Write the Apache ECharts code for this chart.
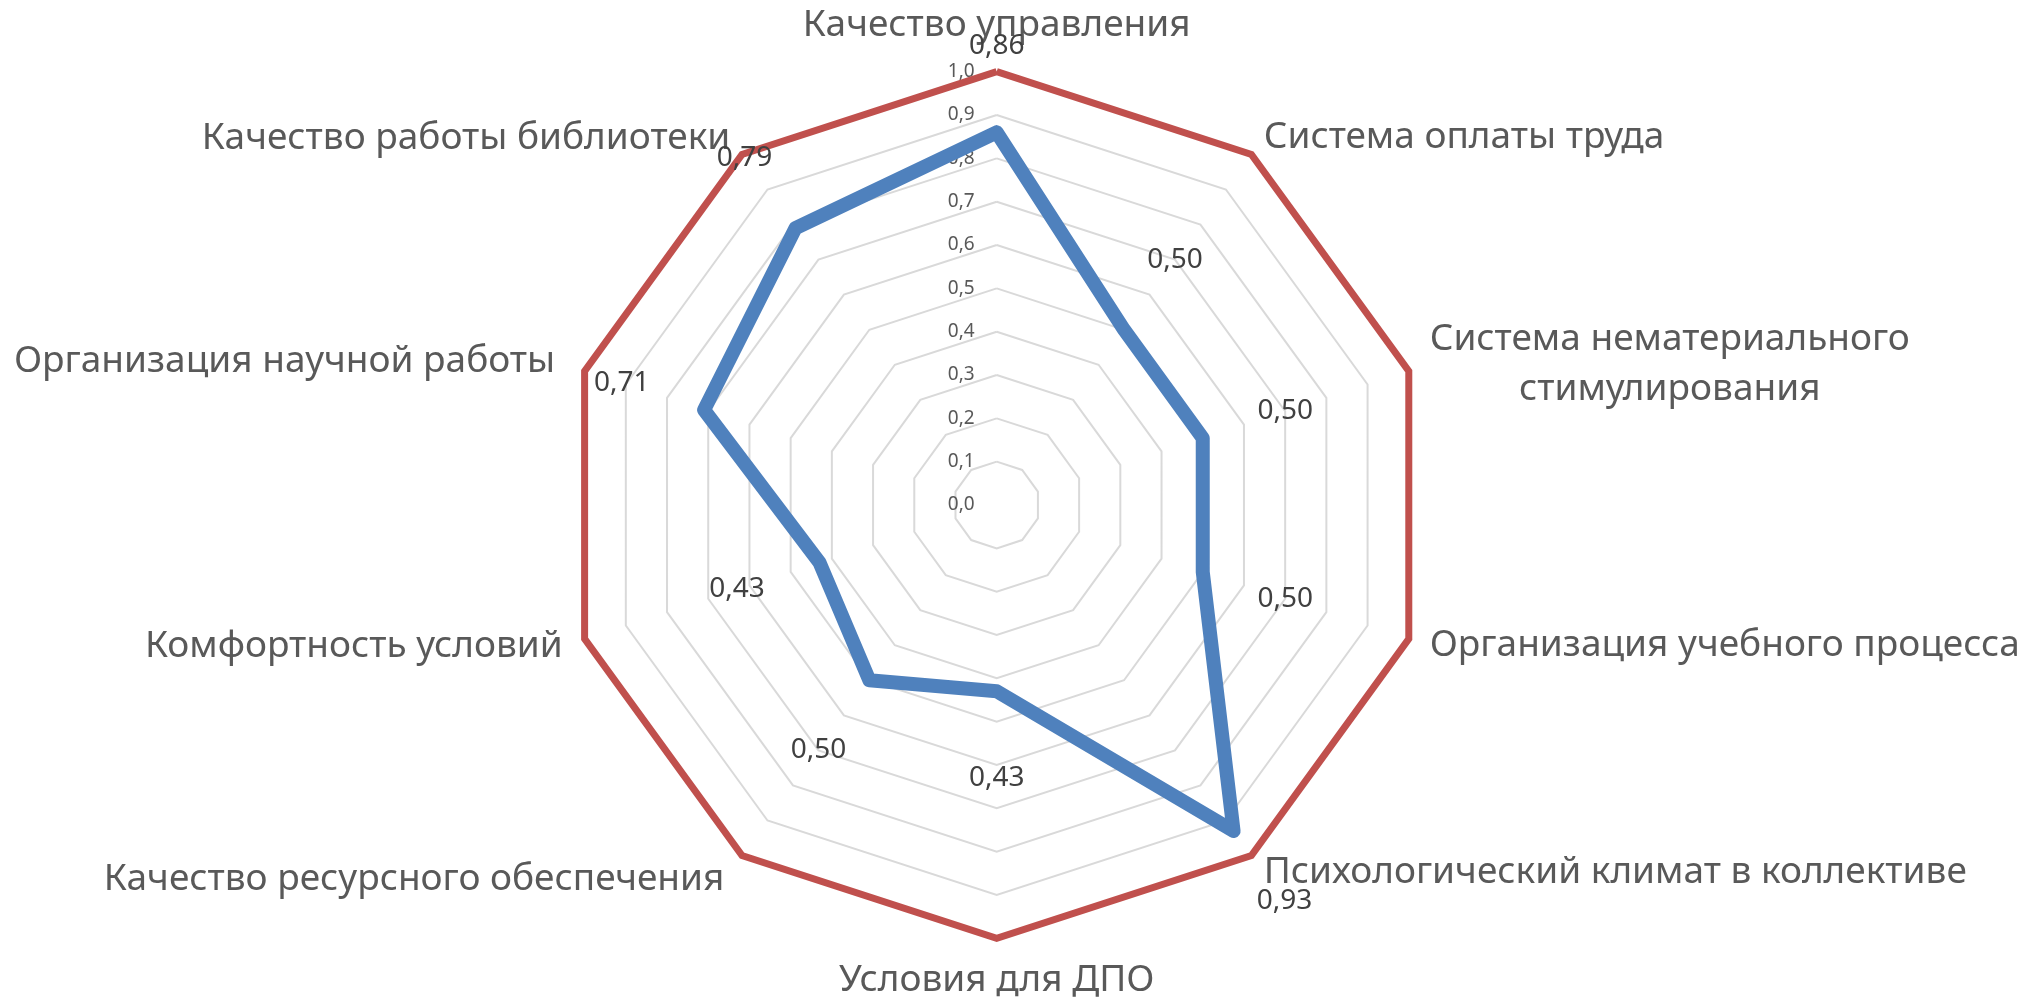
<!DOCTYPE html>
<html>
<head>
<meta charset="utf-8">
<script src="https://cdn.jsdelivr.net/npm/echarts@6/dist/echarts.min.js"></script>
<style>
  html, body { margin: 0; padding: 0; background: #ffffff; }
  #chart { width: 2033px; height: 1005px; }
</style>
</head>
<body>
<div id="chart"></div>
<script>
// Survey criteria, listed clockwise starting from the top spoke
const categories = [
  'Качество управления',
  'Система оплаты труда',
  'Система нематериального\nстимулирования',
  'Организация учебного процесса',
  'Психологический климат в коллективе',
  'Условия для ДПО',
  'Качество ресурсного обеспечения',
  'Комфортность условий',
  'Организация научной работы',
  'Качество работы библиотеки'
];

// Average score per criterion
const scores = [0.86, 0.50, 0.50, 0.50, 0.93, 0.43, 0.50, 0.43, 0.71, 0.79];

// Reference outline at the maximum score
const ceiling = [1, 1, 1, 1, 1, 1, 1, 1, 1, 1];

// Scale of every spoke
const scaleMin = 0;
const scaleMax = 1;
const scaleSteps = 10;

// Distance of each category name from the outer ring (px), clockwise order
const nameGaps = [28, 21, 22, 22, 21, 24, 30, 23, 31, 20];

// Value labels sit a little further out along their spoke than the point itself
const LABEL_LIFT = 0.2;

const FONT = 'Noto Sans';
const NAME_COLOR = '#595959';

// ECharts places indicators counter-clockwise, so walk the list backwards after the first
const n = categories.length;
const order = Array.from({ length: n }, (_, i) => (n - i) % n);
const reorder = arr => order.map(i => arr[i]);

const indicator = order.map((i, k) => ({
  name: categories[i],
  min: scaleMin,
  max: scaleMax,
  nameGap: nameGaps[i],
  axisLabel: { show: k === 0 }
}));

const labelAnchors = scores.map(v => v + LABEL_LIFT);
const comma = (v, d) => v.toFixed(d).replace('.', ',');

const chart = echarts.init(document.getElementById('chart'), null, { renderer: 'canvas' });

chart.setOption({
  backgroundColor: '#ffffff',
  animation: false,
  radar: {
    center: [996.7, 505],
    radius: 433.3,
    startAngle: 90,
    shape: 'polygon',
    splitNumber: scaleSteps,
    nameGap: 20,
    axisName: {
      color: NAME_COLOR,
      fontFamily: FONT,
      fontSize: 37,
      formatter: name => {
        const lines = name.split('\n');
        if (lines.length === 1) return name;
        return lines.map(l => '{line|' + l + '}').join('\n');
      },
      rich: {
        line: {
          align: 'center',
          color: NAME_COLOR,
          fontFamily: FONT,
          fontSize: 37,
          lineHeight: 50
        }
      }
    },
    axisLine: { show: false },
    axisTick: { show: false },
    axisLabel: {
      show: false,
      color: NAME_COLOR,
      fontFamily: FONT,
      fontSize: 19,
      margin: 22,
      formatter: v => comma(Number(v), 1)
    },
    splitLine: { lineStyle: { color: '#d9d9d9', width: 2 } },
    splitArea: { show: false },
    indicator: indicator
  },
  series: [{
    type: 'radar',
    silent: true,
    data: [
      {
        name: 'Максимум',
        value: reorder(ceiling),
        symbol: 'none',
        itemStyle: { color: '#c0504d' },
        lineStyle: { color: '#c0504d', width: 7, join: 'miter' }
      },
      {
        name: 'Оценка',
        value: reorder(scores),
        symbol: 'none',
        itemStyle: { color: '#4f81bd' },
        lineStyle: { color: '#4f81bd', width: 14, join: 'round', cap: 'round' }
      },
      {
        name: 'Подписи',
        value: reorder(labelAnchors),
        symbol: 'circle',
        symbolSize: 1,
        itemStyle: { color: 'rgba(0,0,0,0)' },
        lineStyle: { opacity: 0, width: 0 },
        label: {
          show: true,
          position: 'inside',
          color: '#404040',
          fontFamily: FONT,
          fontSize: 28,
          formatter: p => comma(Number(p.value) - LABEL_LIFT, 2)
        }
      }
    ]
  }]
});
</script>
</body>
</html>
